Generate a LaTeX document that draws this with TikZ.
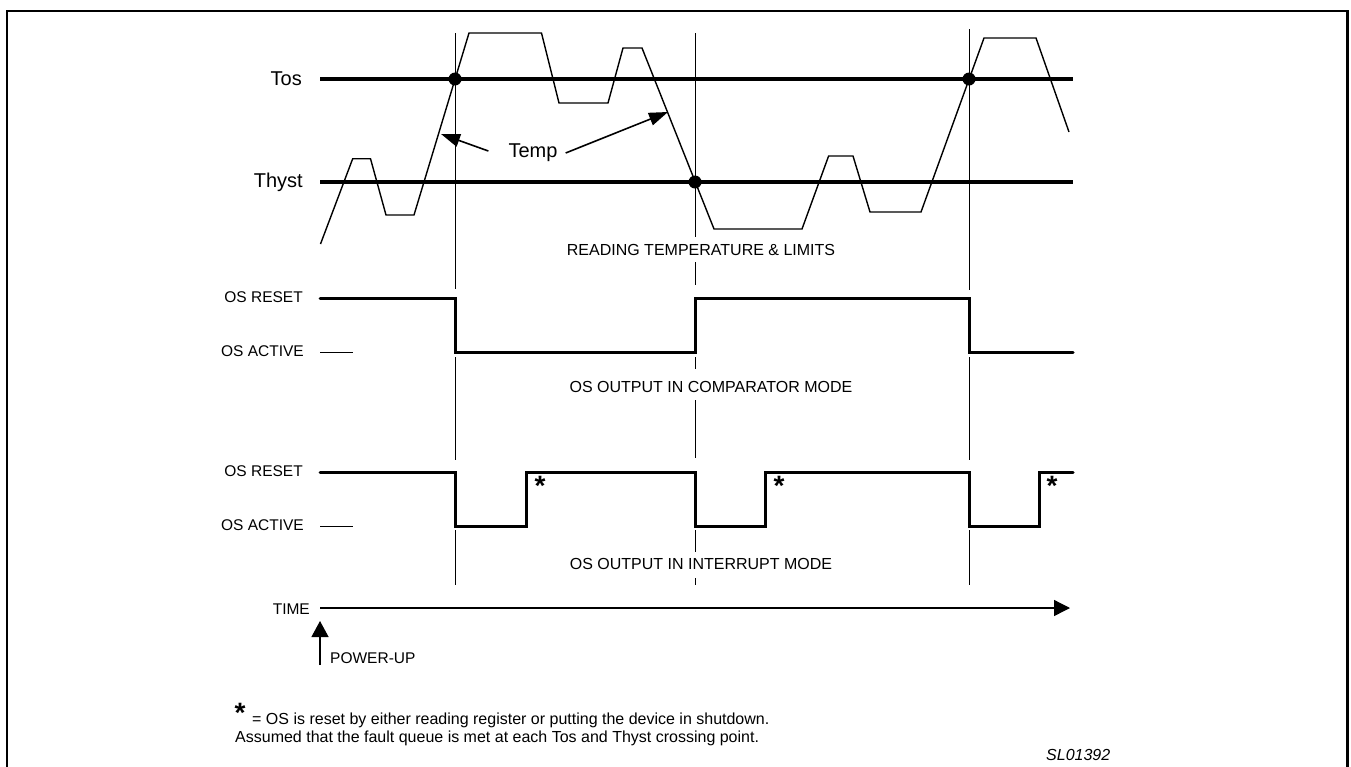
\documentclass[tikz,border=0pt]{standalone}
\usepackage{fontspec}
\setmainfont{Liberation Sans}
\usetikzlibrary{arrows.meta}
\begin{document}
\begin{tikzpicture}[x=1pt,y=-1pt,
  lbl/.style={font=\fontsize{15.5}{18}\selectfont, inner sep=0pt},
  mode/.style={font=\fontsize{16}{18}\selectfont, inner sep=0pt},
  biglbl/.style={font=\fontsize{20}{24}\selectfont, inner sep=0pt},
  note/.style={font=\fontsize{16}{18}\selectfont, inner sep=0pt, anchor=west},
  star/.style={font=\fontsize{28}{30}\selectfont\bfseries, inner sep=0pt, anchor=north},
  level/.style={line width=3.5pt},
  wave/.style={line width=3pt, line join=miter, line cap=round},
  temp/.style={line width=1.4pt, line join=miter},
  guide/.style={line width=0.9pt},
  tick/.style={line width=1pt},
  dot/.style={circle, fill=black, inner sep=0pt, minimum size=13pt},
  pointer/.style={line width=1.6pt, -{Triangle[length=19pt,width=13pt]}}]
\useasboundingbox (0,0) rectangle (1351,766);
\clip (0,0) rectangle (1351,766);
\fill[white] (0,0) rectangle (1351,766);
% frame
\draw[line width=2.5pt] (7,11) rectangle (1347.5,800);

% guide lines
\draw[guide] (455,33) -- (455,289) (455,357) -- (455,460) (455,530) -- (455,585);
\draw[guide] (695,33) -- (695,237) (695,262) -- (695,285) (695,357) -- (695,369)
  (695,400) -- (695,458) (695,530) -- (695,552) (695,578) -- (695,585);
\draw[guide] (969,29) -- (969,290) (969,357) -- (969,460) (969,530) -- (969,585);

% Tos / Thyst levels
\node[biglbl, anchor=east] (tos) at (302,79) {Tos};
\node[biglbl, anchor=east] (thyst) at (303,182) {Thyst};
\draw[level] (320,79) -- (1073,79);
\draw[level] (320,182) -- (1073,182);

% temperature curve
\draw[temp] (320.5,244) -- (352.7,158.7) -- (370.5,158.7) -- (386,215) -- (414,215)
  -- (469,33) -- (541.5,33) -- (559,103) -- (608,103) -- (623,48) -- (642,48)
  -- (714,229) -- (802,229) -- (828.6,156) -- (853,156) -- (870,212) -- (921,212)
  -- (984,38) -- (1036,38) -- (1069,132);
\node[dot] (c1) at (455,79) {};
\node[dot] (c2) at (695,182) {};
\node[dot] (c3) at (969,79) {};

\node[biglbl] (temp) at (533,153) {Temp};
\coordinate (t1) at (441,134);
\coordinate (t2) at (668,112);
\draw[pointer] (temp.west) ++(-20,-2) -- (t1);
\draw[pointer] (temp.east) ++(8,0) -- (t2);

\node[mode] (rd) at (701,250) {READING TEMPERATURE \& LIMITS};

% comparator mode
\node[lbl, anchor=east] (r1) at (303,297) {OS RESET};
\node[lbl, anchor=east] (a1) at (304,351) {OS ACTIVE};
\draw[tick] (320,352) -- (353,352);
\draw[wave] (320,298) -- (455,298) -- (455,352) -- (695,352) -- (695,298) -- (969,298)
  -- (969,352) -- (1073,352);
\node[mode] (cm) at (711,387) {OS OUTPUT IN COMPARATOR MODE};

% interrupt mode
\node[lbl, anchor=east] (r2) at (303,471) {OS RESET};
\node[lbl, anchor=east] (a2) at (304,525) {OS ACTIVE};
\draw[tick] (320,526) -- (353,526);
\draw[wave] (320,472) -- (455,472) -- (455,526) -- (526,526) -- (526,472) -- (695,472)
  -- (695,526) -- (765,526) -- (765,472) -- (969,472) -- (969,526) -- (1039,526)
  -- (1039,472) -- (1073,472);
\node[star] (s1) at (540,476) {*};
\node[star] (s2) at (779,476) {*};
\node[star] (s3) at (1052,476) {*};
\node[mode] (im) at (701,564) {OS OUTPUT IN INTERRUPT MODE};

% time axis
\node[lbl, anchor=east] (time) at (310,609) {TIME};
\coordinate (tend) at (1070,608);
\draw[line width=1.3pt, -{Triangle[length=16pt,width=16pt]}] (320,608) -- (tend);
\coordinate (pu0) at (320,665);
\coordinate (pu1) at (320,621);
\draw[line width=1.3pt, -{Triangle[length=16pt,width=17pt]}] (pu0) -- (pu1);
\node[lbl, anchor=west] (pu) at (330,658) {POWER-UP};

% footnote
\node[star] (fs) at (240,703) {*};
\node[note] (f1) at (252,720) {= OS is reset by either reading register or putting the device in shutdown.};
\node[note] (f2) at (235,738) {Assumed that the fault queue is met at each Tos and Thyst crossing point.};
\node[lbl, anchor=west, font=\fontsize{16}{18}\selectfont\itshape] (sl) at (1046,755) {SL01392};
\end{tikzpicture}
\end{document}
